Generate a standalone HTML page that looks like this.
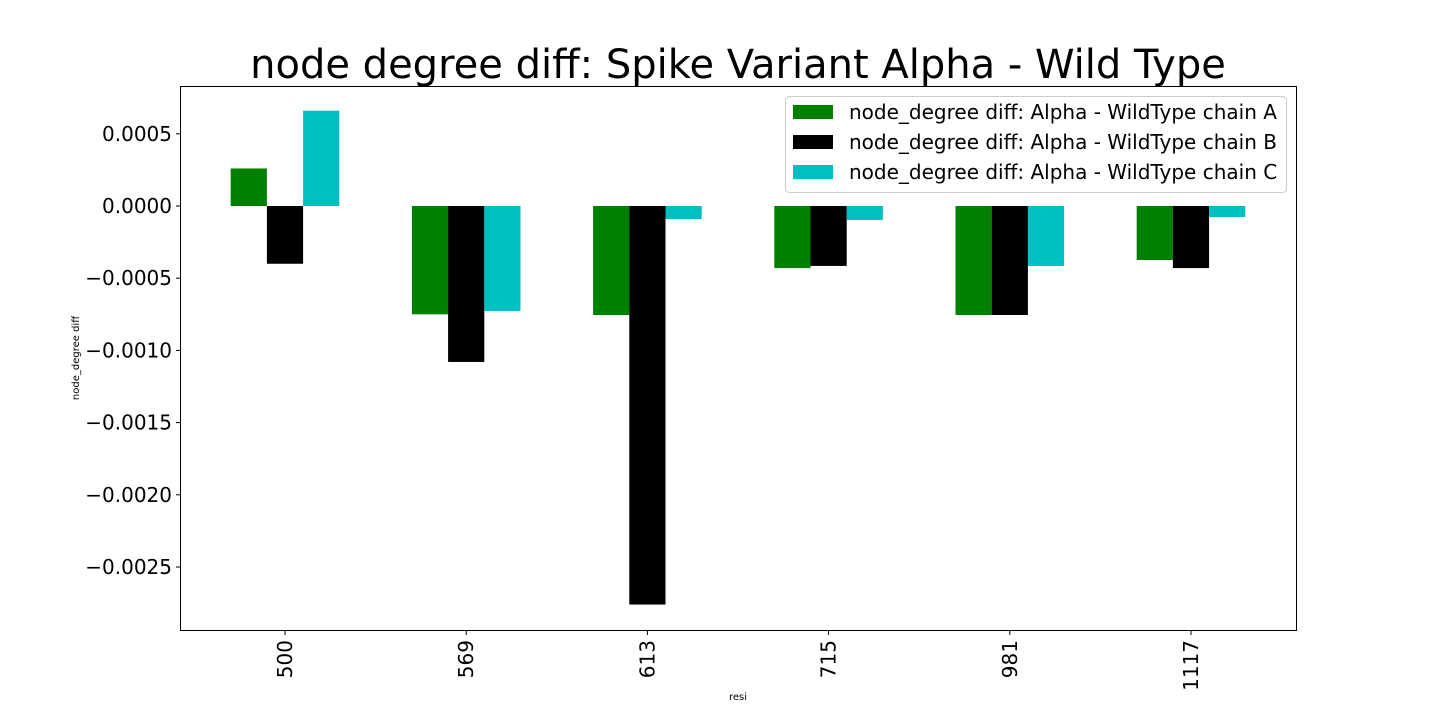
<!DOCTYPE html>
<html><head><meta charset="utf-8"><style>
body{margin:0;background:#fff;}
svg{display:block;font-family:"DejaVu Sans","Liberation Sans",sans-serif;}
</style></head><body>
<svg id="chart" width="1440" height="720" xmlns="http://www.w3.org/2000/svg">
<rect width="1440" height="720" fill="#fff"/>
<text x="738" y="78" font-size="40" text-anchor="middle">node degree diff: Spike Variant Alpha - Wild Type</text>
<g id="plot"></g>
<rect x="180.5" y="86.5" width="1116" height="544" fill="none" stroke="#000" stroke-width="1"/>
<text x="738" y="700" font-size="10" text-anchor="middle">resi</text>
<text transform="translate(79,358) rotate(-90)" font-size="10" text-anchor="middle">node_degree diff</text>
<g>
<rect x="785.5" y="96.5" width="501" height="96" rx="4" fill="#fff" fill-opacity="0.8" stroke="#ccc"/>
<g id="legend-items"></g>
</g>
</svg>
<script>
const categories = ["500","569","613","715","981","1117"];
const seriesNames = ["node_degree diff: Alpha - WildType chain A","node_degree diff: Alpha - WildType chain B","node_degree diff: Alpha - WildType chain C"];
const chainA = [0.00026,-0.00075,-0.000755,-0.00043,-0.000755,-0.000374];
const chainB = [-0.0004,-0.00108,-0.00276,-0.000415,-0.000755,-0.00043];
const chainC = [0.00066,-0.000727,-0.00009,-0.000097,-0.000415,-0.000076];
const yTicks = [0.0005,0,-0.0005,-0.001,-0.0015,-0.002,-0.0025];
const yTickLabels = ["0.0005","0.0000","\u22120.0005","\u22120.0010","\u22120.0015","\u22120.0020","\u22120.0025"];

const colors = ["#008000","#000000","#00bfbf"];
const series = [chainA, chainB, chainC];
const NS = "http://www.w3.org/2000/svg";
const plot = document.getElementById("plot");
function y(v){ return 206 - v*144400; }
function x(i){ return 285 + i*181.2; }
const bw = 36.2;
function mk(tag, attrs, parent){ const e=document.createElementNS(NS,tag); for(const k in attrs) e.setAttribute(k,attrs[k]); parent.appendChild(e); return e; }
series.forEach((s,si)=>{
  s.forEach((v,i)=>{
    const cx = x(i) + (si-1)*bw;
    const y0 = Math.min(y(v), y(0)), h = Math.abs(y(v)-y(0));
    const r = mk("rect",{x:cx-bw/2,y:y0,width:bw,height:h,fill:colors[si]},plot);
    
    
  });
});
yTicks.forEach((t,i)=>{
  mk("line",{x1:176,x2:180,y1:y(t),y2:y(t),stroke:"#000"},plot);
  const tx = mk("text",{x:172,y:y(t)+7,"font-size":20,"text-anchor":"end"},plot);
  tx.textContent = yTickLabels[i];
  
  
});
categories.forEach((c,i)=>{
  mk("line",{x1:x(i),x2:x(i),y1:631,y2:635,stroke:"#000"},plot);
  const tx = mk("text",{transform:`translate(${x(i)+7},640) rotate(-90)`,"font-size":20,"text-anchor":"end"},plot);
  tx.textContent = c;
  
  
});
const lg = document.getElementById("legend-items");
seriesNames.forEach((n,i)=>{
  const ly = 112 + i*30;
  const p = mk("rect",{x:793,y:ly-7,width:40,height:14,fill:colors[i]},lg);
  
  
  const t = mk("text",{x:849,y:ly+7,"font-size":20},lg);
  t.textContent = n;
  
  
});
</script>
</body></html>
